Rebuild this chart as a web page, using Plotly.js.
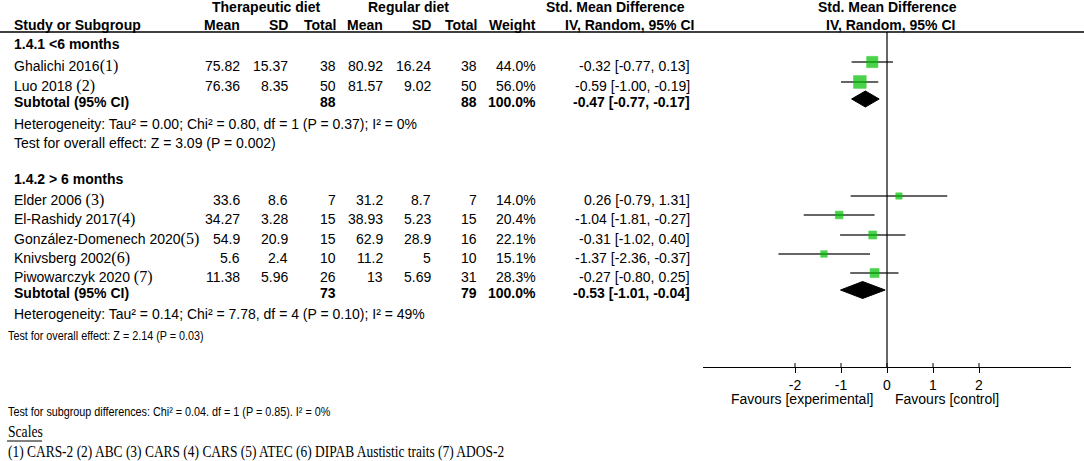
<!DOCTYPE html>
<html>
<head>
<meta charset="utf-8">
<script src="https://cdn.plot.ly/plotly-3.0.1.min.js"></script>
<style>html,body{margin:0;padding:0;background:#fff;}#chart{width:1084px;height:461px;}</style>
</head>
<body>
<div id="chart"></div>
<script>
// ---------- DATA ----------
const g1Label = '1.4.1 <6 months';
const g1Studies = ['Ghalichi 2016', 'Luo 2018 '];
const g1Notes = ['(1)', '(2)'];
const g1TMean = [75.82, 76.36];
const g1TSD = [15.37, 8.35];
const g1TN = [38, 50];
const g1RMean = [80.92, 81.57];
const g1RSD = [16.24, 9.02];
const g1RN = [38, 50];
const g1Weight = [44.0, 56.0];
const g1Est = [-0.32, -0.59];
const g1Lo = [-0.77, -1.00];
const g1Hi = [0.13, -0.19];
const g1Sub = [-0.47, -0.77, -0.17];   // est, lo, hi
const g1SubN = [88, 88];
const g1Het = 'Heterogeneity: Tau² = 0.00; Chi² = 0.80, df = 1 (P = 0.37); I² = 0%';
const g1Test = 'Test for overall effect: Z = 3.09 (P = 0.002)';

const g2Label = '1.4.2 > 6 months';
const g2Studies = ['Elder 2006 ', 'El-Rashidy 2017', 'González-Domenech 2020', 'Knivsberg 2002', 'Piwowarczyk 2020 '];
const g2Notes = ['(3)', '(4)', '(5)', '(6)', '(7)'];
const g2TMean = [33.6, 34.27, 54.9, 5.6, 11.38];
const g2TSD = [8.6, 3.28, 20.9, 2.4, 5.96];
const g2TN = [7, 15, 15, 10, 26];
const g2RMean = [31.2, 38.93, 62.9, 11.2, 13];
const g2RSD = [8.7, 5.23, 28.9, 5, 5.69];
const g2RN = [7, 15, 16, 10, 31];
const g2Weight = [14.0, 20.4, 22.1, 15.1, 28.3];
const g2Est = [0.26, -1.04, -0.31, -1.37, -0.27];
const g2Lo = [-0.79, -1.81, -1.02, -2.36, -0.80];
const g2Hi = [1.31, -0.27, 0.40, -0.37, 0.25];
const g2Sub = [-0.53, -1.01, -0.04];
const g2SubN = [73, 79];
const g2Het = 'Heterogeneity: Tau² = 0.14; Chi² = 7.78, df = 4 (P = 0.10); I² = 49%';
const g2Test = 'Test for overall effect: Z = 2.14 (P = 0.03)';

const subgroupTest = 'Test for subgroup differences: Chi² = 0.04. df = 1 (P = 0.85). I² = 0%';
const scalesTitle = 'Scales';
const scalesText = '(1) CARS-2 (2) ABC (3) CARS (4) CARS (5) ATEC (6) DIPAB Austistic traits (7) ADOS-2';
const tickVals = [-2, -1, 0, 1, 2];
const favLeft = 'Favours [experimental]';
const favRight = 'Favours [control]';

// ---------- LAYOUT CONSTANTS ----------
const SANS = 'Liberation Sans, Arial, sans-serif';
const SERIF = 'Liberation Serif, Times New Roman, serif';
const FS = 14;
const colX = {name: 13, tMean: 241, tSD: 289, tN: 337, rMean: 384, rSD: 432, rN: 478, w: 537, ci: 691};
const g1Rows = [66, 86], g1LabelY = 44, g1SubY = 102, g1HetY = 124, g1TestY = 143;
const g2Rows = [200, 219, 239, 258, 277], g2LabelY = 179, g2SubY = 293, g2HetY = 314, g2TestY = 335;
const markerOffset = -4;
const headerLineY = 32, axisY = 367;

const annotations = [];
const squeezed = [];   // [annotation index, horizontal factor]
function txt(x, y, text, opts) {
  opts = opts || {};
  if (opts.squeeze) squeezed.push([annotations.length, opts.squeeze]);
  annotations.push({
    x: x, y: y, xref: 'x', yref: 'y', text: text, showarrow: false,
    xanchor: opts.anchor || 'left', yanchor: 'middle',
    font: {family: opts.family || SANS, size: opts.size || FS, color: '#000'},
    borderpad: 0, align: opts.anchor || 'left'
  });
}
const B = s => '<b>' + s + '</b>';
const note = s => '<span style="font-family:Liberation Serif, Times New Roman, serif;font-size:16px">' + s + '</span>';
const fmtCI = (e, l, h) => e.toFixed(2) + ' [' + l.toFixed(2) + ', ' + h.toFixed(2) + ']';

// headers
txt(266, 7, B('Therapeutic diet'), {anchor: 'center'});
txt(408, 7, B('Regular diet'), {anchor: 'center'});
txt(615, 7, B('Std. Mean Difference'), {anchor: 'center'});
txt(887, 7, B('Std. Mean Difference'), {anchor: 'center'});
txt(colX.name, 25, B('Study or Subgroup'));
txt(colX.tMean, 25, B('Mean'), {anchor: 'right'});
txt(colX.tSD, 25, B('SD'), {anchor: 'right'});
txt(colX.tN, 25, B('Total'), {anchor: 'right'});
txt(colX.rMean, 25, B('Mean'), {anchor: 'right'});
txt(colX.rSD, 25, B('SD'), {anchor: 'right'});
txt(colX.rN, 25, B('Total'), {anchor: 'right'});
txt(colX.w, 25, B('Weight'), {anchor: 'right'});
txt(695, 25, B('IV, Random, 95% CI'), {anchor: 'right'});
txt(890, 25, B('IV, Random, 95% CI'), {anchor: 'center'});

function group(label, labelY, rows, studies, notes, tm, ts, tn, rm, rs, rn, w, est, lo, hi, sub, subN, subY, het, hetY, test, testY, testOpts) {
  txt(colX.name, labelY, B(label));
  rows.forEach((y, i) => {
    txt(colX.name, y, studies[i] + note(notes[i]));
    txt(colX.tMean, y, String(tm[i]), {anchor: 'right'});
    txt(colX.tSD, y, String(ts[i]), {anchor: 'right'});
    txt(colX.tN, y, String(tn[i]), {anchor: 'right'});
    txt(colX.rMean, y, String(rm[i]), {anchor: 'right'});
    txt(colX.rSD, y, String(rs[i]), {anchor: 'right'});
    txt(colX.rN, y, String(rn[i]), {anchor: 'right'});
    txt(colX.w, y, w[i].toFixed(1) + '%', {anchor: 'right'});
    txt(colX.ci, y, fmtCI(est[i], lo[i], hi[i]), {anchor: 'right'});
  });
  txt(colX.name, subY, B('Subtotal (95% CI)'));
  txt(colX.tN, subY, B(String(subN[0])), {anchor: 'right'});
  txt(colX.rN, subY, B(String(subN[1])), {anchor: 'right'});
  txt(colX.w, subY, B('100.0%'), {anchor: 'right'});
  txt(colX.ci, subY, B(fmtCI(sub[0], sub[1], sub[2])), {anchor: 'right'});
  txt(colX.name, hetY, het);
  if (testOpts) txt(7, testY, test, testOpts); else txt(colX.name, testY, test);
}
group(g1Label, g1LabelY, g1Rows, g1Studies, g1Notes, g1TMean, g1TSD, g1TN, g1RMean, g1RSD, g1RN, g1Weight, g1Est, g1Lo, g1Hi, g1Sub, g1SubN, g1SubY, g1Het, g1HetY, g1Test, g1TestY, null);
group(g2Label, g2LabelY, g2Rows, g2Studies, g2Notes, g2TMean, g2TSD, g2TN, g2RMean, g2RSD, g2RN, g2Weight, g2Est, g2Lo, g2Hi, g2Sub, g2SubN, g2SubY, g2Het, g2HetY, g2Test, g2TestY, {size: 13, squeeze: 0.83});

txt(7, 411, subgroupTest, {size: 13, squeeze: 0.83});
txt(7, 431, scalesTitle, {family: SERIF, size: 17, squeeze: 0.8});
txt(7, 451, scalesText, {family: SERIF, size: 17, squeeze: 0.79});

// favours labels (positioned relative to the zero line)
annotations.push({x: 0, y: 399, xref: 'x2', yref: 'y', text: favLeft, showarrow: false, xanchor: 'right', yanchor: 'middle', xshift: -12, font: {family: SANS, size: FS, color: '#000'}});
annotations.push({x: 0, y: 399, xref: 'x2', yref: 'y', text: favRight, showarrow: false, xanchor: 'left', yanchor: 'middle', xshift: 6, font: {family: SANS, size: FS, color: '#000'}});

// ---------- TRACES ----------
const ciX = [], ciY = [], mX = [], mY = [], mS = [];
function addCI(rows, est, lo, hi, w) {
  rows.forEach((y, i) => {
    ciX.push(lo[i], hi[i], null);
    ciY.push(y + markerOffset, y + markerOffset, null);
    mX.push(est[i]); mY.push(y + markerOffset); mS.push(1.7 * Math.sqrt(w[i]));
  });
}
addCI(g1Rows, g1Est, g1Lo, g1Hi, g1Weight);
addCI(g2Rows, g2Est, g2Lo, g2Hi, g2Weight);

function diamond(sub, yc, half) {
  return {
    type: 'scatter', mode: 'lines', xaxis: 'x2', yaxis: 'y',
    x: [sub[1], sub[0], sub[2], sub[0], sub[1]],
    y: [yc, yc - half, yc, yc + half, yc],
    fill: 'toself', fillcolor: '#000', line: {color: '#000', width: 1},
    hoverinfo: 'skip', showlegend: false
  };
}

const traces = [
  {type: 'scatter', mode: 'lines', xaxis: 'x2', yaxis: 'y', x: ciX, y: ciY,
   line: {color: '#333', width: 1.5}, hoverinfo: 'skip', showlegend: false, connectgaps: false},
  {type: 'scatter', mode: 'markers', xaxis: 'x2', yaxis: 'y', x: mX, y: mY,
   marker: {symbol: 'square', size: mS, color: '#00c000', line: {color: '#00c000', width: 0.6}},
   hoverinfo: 'skip', showlegend: false},
  diamond(g1Sub, g1SubY - 3, 8),
  diamond(g2Sub, g2SubY - 3, 8.5)
];

// ---------- SHAPES ----------
const shapes = [
  {type: 'line', xref: 'x', yref: 'y', x0: 0, x1: 1084, y0: headerLineY, y1: headerLineY, line: {color: '#000', width: 1.3}},
  {type: 'line', xref: 'x2', yref: 'y', x0: 0, x1: 0, y0: headerLineY, y1: axisY, line: {color: '#000', width: 1.2}},
  {type: 'line', xref: 'x', yref: 'y', x0: 7, x1: 42, y0: 441, y1: 441, line: {color: '#000', width: 1}}
];
tickVals.forEach(v => shapes.push({type: 'line', xref: 'x2', yref: 'y', x0: v, x1: v, y0: axisY - 4, y1: axisY, line: {color: '#000', width: 1}}));

const layout = {
  width: 1084, height: 461,
  margin: {l: 0, r: 0, t: 0, b: 0},
  paper_bgcolor: '#fff', plot_bgcolor: 'rgba(0,0,0,0)',
  showlegend: false,
  xaxis: {range: [0, 1084], domain: [0, 1], visible: false, fixedrange: true},
  yaxis: {range: [461, 0], domain: [0, 1], visible: false, fixedrange: true},
  xaxis2: {
    domain: [703 / 1084, 1071 / 1084], range: [-4, 4], anchor: 'free',
    position: (461 - axisY) / 461,
    showline: true, linecolor: '#000', linewidth: 1.3,
    tickvals: tickVals, ticktext: tickVals.map(String),
    ticks: 'outside', ticklen: 5, tickcolor: '#000', tickwidth: 1,
    tickfont: {family: SANS, size: FS, color: '#000'},
    showgrid: false, zeroline: false, fixedrange: true
  },
  annotations: annotations,
  shapes: shapes
};

Plotly.newPlot('chart', traces, layout, {displayModeBar: false, staticPlot: true}).then(gd => {
  // condense the bottom lines horizontally, as in the reference image
  const nodes = gd.querySelectorAll('.annotation');
  squeezed.forEach(([i, f]) => {
    const t = nodes[i] && nodes[i].querySelector('text.annotation-text');
    if (!t) return;
    const w = t.getComputedTextLength();
    t.setAttribute('textLength', (w * f).toFixed(1));
    t.setAttribute('lengthAdjust', 'spacingAndGlyphs');
  });
});
</script>
</body>
</html>
